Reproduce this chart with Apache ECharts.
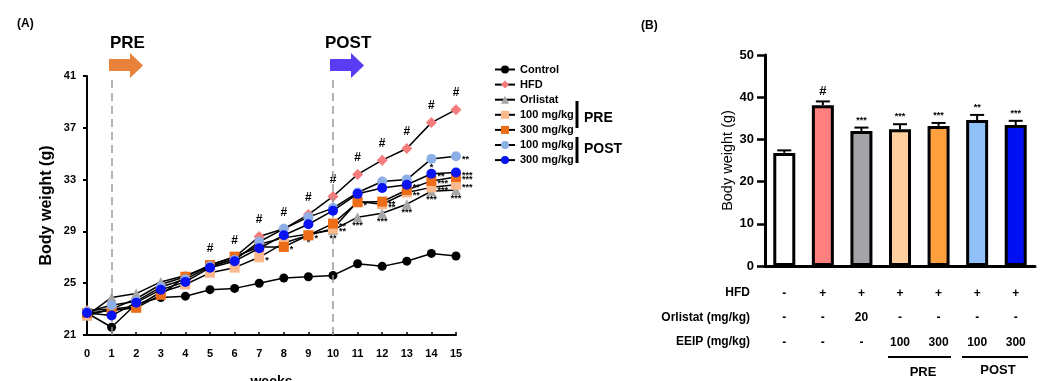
<!DOCTYPE html>
<html>
<head>
<meta charset="utf-8">
<script src="https://cdn.jsdelivr.net/npm/echarts@6/dist/echarts.min.js"></script>
<style>
  html, body { margin: 0; background: #fff; }
  #chart { width: 1047px; height: 381px; }
</style>
</head>
<body>
<div id="chart"></div>
<script>
// (A) weekly body weight, g
const weeks = [0, 1, 2, 3, 4, 5, 6, 7, 8, 9, 10, 11, 12, 13, 14, 15];
const control  = [22.7, 21.6, 23.4, 23.9, 24.0, 24.5, 24.6, 25.0, 25.4, 25.5, 25.6, 26.5, 26.3, 26.7, 27.3, 27.1];
const hfd      = [22.9, 23.0, 23.8, 24.9, 25.5, 26.4, 27.0, 28.6, 29.2, 30.3, 31.7, 33.4, 34.5, 35.4, 37.4, 38.4];
const orlistat = [22.5, 23.9, 24.2, 25.1, 25.6, 26.3, 26.9, 28.0, 28.5, 28.8, 29.1, 30.1, 30.4, 31.1, 32.1, 32.2];
const pre100   = [22.5, 23.0, 23.2, 24.3, 24.9, 25.8, 26.2, 27.0, 28.1, 28.7, 29.2, 31.3, 31.1, 32.0, 32.4, 32.6];
const pre300   = [22.7, 22.9, 23.1, 24.1, 25.5, 26.4, 27.05, 27.8, 27.8, 28.7, 29.6, 31.25, 31.3, 32.2, 32.9, 33.2];
const post100  = [22.8, 23.3, 23.6, 24.7, 25.3, 26.3, 26.8, 28.2, 29.2, 30.1, 30.8, 32.0, 32.85, 33.0, 34.6, 34.8];
const post300  = [22.7, 22.5, 23.5, 24.5, 25.1, 26.2, 26.7, 27.7, 28.7, 29.55, 30.6, 31.9, 32.35, 32.6, 33.45, 33.55];

// significance marks: [series, week, text, position]
const lineMarks = [
  ['HFD', 5, '#', 'top'], ['HFD', 6, '#', 'top'], ['HFD', 7, '#', 'top'], ['HFD', 8, '#', 'top'],
  ['HFD', 9, '#', 'top'], ['HFD', 10, '#', 'top'], ['HFD', 11, '#', 'top'], ['HFD', 12, '#', 'top'],
  ['HFD', 13, '#', 'top'], ['HFD', 14, '#', 'top'], ['HFD', 15, '#', 'top'],
  ['PRE 100', 7, '*', 'right'],
  ['PRE 300', 8, '*', 'right'],
  ['PRE 300', 9, '*', 'right'], ['Orlistat', 9, '*', 'bottom'],
  ['PRE 300', 10, '**', 'right'], ['PRE 100', 10, '**', 'right'], ['Orlistat', 10, '**', 'bottom'],
  ['PRE 300', 11, '*', 'right'], ['Orlistat', 11, '***', 'bottom'],
  ['PRE 300', 12, '**', 'right'], ['PRE 100', 12, '**', 'right'], ['Orlistat', 12, '***', 'bottom'],
  ['POST 300', 13, '**', 'right'], ['PRE 100', 13, '**', 'right'], ['Orlistat', 13, '***', 'bottom'],
  ['POST 100', 14, '*', 'bottom'], ['POST 300', 14, '**', 'right'], ['PRE 300', 14, '***', 'right'],
  ['PRE 100', 14, '***', 'right'], ['Orlistat', 14, '***', 'bottom'],
  ['POST 100', 15, '**', 'right'], ['POST 300', 15, '***', 'right'], ['PRE 300', 15, '***', 'right'],
  ['PRE 100', 15, '***', 'right'], ['Orlistat', 15, '***', 'bottom'],
];

// (B) final body weight
const groups = ['Control', 'HFD', 'Orlistat', 'PRE 100', 'PRE 300', 'POST 100', 'POST 300'];
const finalWeight = [26.8, 38.1, 32.0, 32.4, 33.2, 34.6, 33.4];
const finalSem = [0.6, 0.9, 0.8, 1.2, 0.7, 1.2, 1.0];
const finalMarks = ['', '#', '***', '***', '***', '**', '***'];
const hfdRow = ['-', '+', '+', '+', '+', '+', '+'];
const orlistatRow = ['-', '-', '20', '-', '-', '-', '-'];
const eeipRow = ['-', '-', '-', '100', '300', '100', '300'];

const FONT = '"Liberation Sans", Arial, sans-serif';
const legendNames = {
  'Control': 'Control', 'HFD': 'HFD', 'Orlistat': 'Orlistat',
  'PRE 100': '100 mg/kg', 'PRE 300': '300 mg/kg', 'POST 100': '100 mg/kg', 'POST 300': '300 mg/kg',
};

const lineDefs = [
  { name: 'Control', values: control, color: '#000000', symbol: 'circle', size: 9 },
  { name: 'HFD', values: hfd, color: '#f47c7c', symbol: 'diamond', size: 11 },
  { name: 'Orlistat', values: orlistat, color: '#a6a6a6', symbol: 'triangle', size: 10 },
  { name: 'PRE 100', values: pre100, color: '#f9b98c', symbol: 'rect', size: 10 },
  { name: 'PRE 300', values: pre300, color: '#ec6c17', symbol: 'rect', size: 10 },
  { name: 'POST 100', values: post100, color: '#8eaee6', symbol: 'circle', size: 10 },
  { name: 'POST 300', values: post300, color: '#0a14f2', symbol: 'circle', size: 10 },
];

function lineData(def) {
  return weeks.map((w, i) => {
    const item = { value: [w, def.values[i]] };
    const m = lineMarks.find((k) => k[0] === def.name && k[1] === w);
    if (m) {
      const isHash = m[2] === '#';
      item.label = {
        show: true,
        formatter: m[2],
        position: m[3],
        distance: isHash ? 5 : (m[3] === 'right' ? 1 : -1),
        offset: isHash ? [0, 0] : [0, m[3] === 'right' ? 3 : 0],
        color: '#000',
        fontFamily: FONT,
        fontWeight: 'bold',
        fontSize: isHash ? 12 : 9,
      };
    }
    return item;
  });
}

const lineSeries = lineDefs.map((def, idx) => ({
  name: def.name,
  type: 'line',
  xAxisIndex: 0,
  yAxisIndex: 0,
  data: lineData(def),
  symbol: def.symbol,
  symbolSize: def.size,
  itemStyle: { color: def.color },
  lineStyle: { color: '#000', width: 1.5 },
  z: 2 + idx,
  animation: false,
  markLine: idx === 0 ? {
    silent: true,
    symbol: 'none',
    label: { show: false },
    lineStyle: { type: [8, 5], color: '#9a9a9a', width: 1.5 },
    data: [{ xAxis: 1 }, { xAxis: 10 }],
  } : undefined,
}));

const barColors = ['#ffffff', '#ff7f7f', '#a3a3a8', '#ffd09f', '#ffa03f', '#91c0f8', '#0010f2'];

const chart = echarts.init(document.getElementById('chart'));

function arrow(x, color) {
  return {
    type: 'polygon',
    shape: { points: [[x, 59], [x + 21, 59], [x + 21, 53], [x + 34, 65.5], [x + 21, 78], [x + 21, 71], [x, 71]] },
    style: { fill: color },
  };
}
function boldText(x, y, text, size, align) {
  return {
    type: 'text', x, y,
    style: { text, fill: '#000', font: `bold ${size}px ${FONT}`, align: align || 'left', verticalAlign: 'middle' },
  };
}

chart.setOption({
  animation: false,
  textStyle: { fontFamily: FONT },
  grid: [
    { left: 87, top: 76, width: 369, height: 259, outerBoundsMode: 'none' },
    { left: 765, top: 55, width: 270, height: 211, outerBoundsMode: 'none' },
  ],
  legend: {
    data: lineDefs.map((d) => d.name),
    orient: 'vertical',
    left: 489,
    top: 59,
    itemWidth: 20,
    itemHeight: 10,
    itemGap: 4.1,
    formatter: (n) => legendNames[n],
    textStyle: { fontFamily: FONT, fontWeight: 'bold', fontSize: 11, color: '#000' },
  },
  xAxis: [
    {
      gridIndex: 0,
      type: 'value',
      min: 0,
      max: 15,
      interval: 1,
      name: 'weeks',
      nameLocation: 'middle',
      nameGap: 40,
      nameTextStyle: { color: '#000', fontWeight: 'bold', fontSize: 14 },
      axisLine: { lineStyle: { color: '#000', width: 2 } },
      axisTick: { inside: true, length: 3, lineStyle: { color: '#000', width: 1.5 } },
      axisLabel: { color: '#000', fontWeight: 'bold', fontSize: 11, margin: 13 },
      splitLine: { show: false },
    },
    {
      gridIndex: 1,
      type: 'category',
      data: groups,
      z: 5,
      axisLine: { lineStyle: { color: '#000', width: 3 } },
      axisTick: { inside: true, alignWithLabel: true, length: 7, lineStyle: { color: '#000', width: 2.5 } },
      axisLabel: {
        color: '#000', fontWeight: 'bold', fontSize: 12, margin: 15, lineHeight: 24.5,
        formatter: (v, i) => `${hfdRow[i]}\n${orlistatRow[i]}\n${eeipRow[i]}`,
      },
    },
  ],
  yAxis: [
    {
      gridIndex: 0,
      type: 'value',
      min: 21,
      max: 41,
      interval: 4,
      name: 'Body weight (g)',
      nameLocation: 'middle',
      nameGap: 32,
      nameTextStyle: { color: '#000', fontWeight: 'bold', fontSize: 16 },
      axisLine: { show: true, lineStyle: { color: '#000', width: 2 } },
      axisTick: { show: true, length: 4, lineStyle: { color: '#000', width: 2 } },
      axisLabel: { color: '#000', fontWeight: 'bold', fontSize: 11, margin: 11 },
      splitLine: { show: false },
    },
    {
      gridIndex: 1,
      type: 'value',
      min: 0,
      max: 50,
      interval: 10,
      name: 'Body weight (g)',
      nameLocation: 'middle',
      nameGap: 30,
      nameTextStyle: { color: '#000', fontSize: 14.5 },
      axisLine: { show: true, lineStyle: { color: '#000', width: 3 } },
      axisTick: { show: true, length: 8, lineStyle: { color: '#000', width: 2.5 } },
      axisLabel: { color: '#000', fontWeight: 'bold', fontSize: 13, margin: 11 },
      splitLine: { show: false },
    },
  ],
  series: [
    ...lineSeries,
    {
      name: 'final',
      type: 'bar',
      xAxisIndex: 1,
      yAxisIndex: 1,
      barWidth: 22,
      data: finalWeight.map((v, i) => ({ value: v, itemStyle: { color: barColors[i] } })),
      itemStyle: { borderColor: '#000', borderWidth: 3 },
    },
    {
      name: 'sem',
      type: 'custom',
      xAxisIndex: 1,
      yAxisIndex: 1,
      z: 4,
      data: finalWeight.map((v, i) => [i, v, finalSem[i]]),
      renderItem(params, api) {
        const base = api.coord([api.value(0), api.value(1)]);
        const top = api.coord([api.value(0), api.value(1) + api.value(2)]);
        const mark = finalMarks[params.dataIndex];
        const isHash = mark === '#';
        return {
          type: 'group',
          children: [
            { type: 'line', shape: { x1: base[0], y1: base[1], x2: top[0], y2: top[1] }, style: { stroke: '#000', lineWidth: 2 } },
            { type: 'line', shape: { x1: top[0] - 7, y1: top[1], x2: top[0] + 7, y2: top[1] }, style: { stroke: '#000', lineWidth: 2 } },
            {
              type: 'text', x: top[0], y: top[1] - 3,
              style: { text: mark, fill: '#000', font: `bold ${isHash ? 13 : 9}px ${FONT}`, align: 'center', verticalAlign: 'bottom' },
            },
          ],
        };
      },
    },
  ],
  graphic: [
    boldText(17, 24, '(A)', 12),
    boldText(641, 26, '(B)', 12),
    boldText(110, 43, 'PRE', 17),
    boldText(325, 43, 'POST', 17),
    arrow(109, '#e8813a'),
    arrow(330, '#5a3cf5'),
    { type: 'rect', shape: { x: 575.5, y: 101, width: 3, height: 27 }, style: { fill: '#000' } },
    { type: 'rect', shape: { x: 575.5, y: 137, width: 3, height: 26 }, style: { fill: '#000' } },
    boldText(584, 118, 'PRE', 14),
    boldText(584, 149, 'POST', 14),
    boldText(750, 293, 'HFD', 12, 'right'),
    boldText(750, 318, 'Orlistat (mg/kg)', 12, 'right'),
    boldText(750, 342, 'EEIP (mg/kg)', 12, 'right'),
    { type: 'rect', shape: { x: 888, y: 356, width: 63, height: 2 }, style: { fill: '#000' } },
    { type: 'rect', shape: { x: 962, y: 356, width: 66, height: 2 }, style: { fill: '#000' } },
    boldText(923, 372, 'PRE', 13, 'center'),
    boldText(998, 370, 'POST', 13, 'center'),
  ],
});
</script>
</body>
</html>
